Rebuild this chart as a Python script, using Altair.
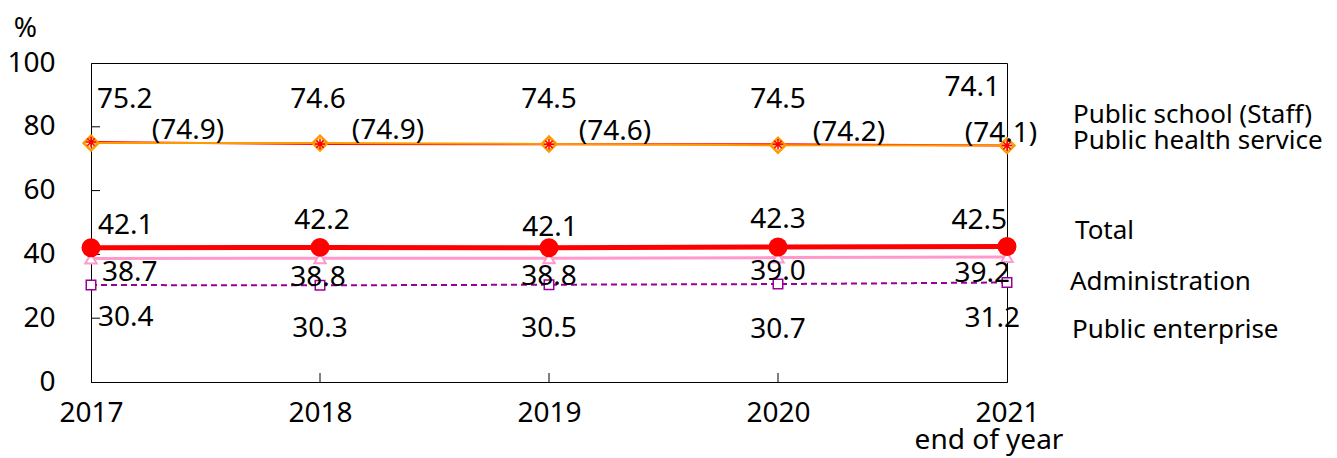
import altair as alt
import pandas as pd

# ---------------- data ----------------
years = [2017, 2018, 2019, 2020, 2021]
series_names = ["Public school (Staff)", "Public health service", "Total",
                "Administration", "Public enterprise"]
school = [75.2, 74.6, 74.5, 74.5, 74.1]
health = [74.9, 74.9, 74.6, 74.2, 74.1]
total = [42.1, 42.2, 42.1, 42.3, 42.5]
admin = [38.7, 38.8, 38.8, 39.0, 39.2]
enterprise = [30.4, 30.3, 30.5, 30.7, 31.2]
y_tick_values = [0, 20, 40, 60, 80, 100]
x_note = "end of year"

values_by_series = {
    "Public school (Staff)": school,
    "Public health service": health,
    "Total": total,
    "Administration": admin,
    "Public enterprise": enterprise,
}

rows = []
for name in series_names:
    for yr, v in zip(years, values_by_series[name]):
        lab = f"({v:.1f})" if name == "Public health service" else f"{v:.1f}"
        rows.append({"series": name, "year": yr, "value": v, "label": lab})
df = pd.DataFrame(rows)

# ---------------- layout / style ----------------
W, H = 916, 319
FONT = "Noto Sans"
FS = 28
LEG_FS = 26

xs = alt.Scale(domain=[2017, 2021], nice=False, zero=False)
ys = alt.Scale(domain=[0, 100], nice=False)

x_axis = alt.Axis(values=years, format="d", title=None, grid=False,
                  ticks=False, tickSize=0, labelPadding=17,
                  labelFontSize=FS, labelFont=FONT, labelColor="black",
                  domainColor="black", labelFlush=False)
y_axis = alt.Axis(values=y_tick_values, grid=False, ticks=False,
                  tickSize=0, labelPadding=36, labelFontSize=FS,
                  labelFont=FONT, labelColor="black",
                  domainColor="black", title="%", titleAngle=0,
                  titleX=-66, titleY=-35, titleAlign="center",
                  titleBaseline="middle", titleFontSize=FS,
                  titleFont=FONT, titleFontWeight="normal",
                  titleColor="black")
X = alt.X("year:Q", scale=xs, axis=x_axis)
Y = alt.Y("value:Q", scale=ys, axis=y_axis)

line_style = {
    "Public school (Staff)": dict(color="#FF0000", strokeWidth=2),
    "Public health service": dict(color="#FF9900", strokeWidth=2),
    "Total": dict(color="#FF0000", strokeWidth=5),
    "Administration": dict(color="#FF99CC", strokeWidth=3),
    "Public enterprise": dict(color="#990099", strokeWidth=2, strokeDash=[6, 4]),
}
ASTERISK = "M-1,0L1,0M0,-1L0,1M-0.7,-0.7L0.7,0.7M-0.7,0.7L0.7,-0.7"
point_style = {
    "Public school (Staff)": dict(shape=ASTERISK, filled=False, stroke="#FF0000",
                                  strokeWidth=1.5, size=110, opacity=1),
    "Public health service": dict(shape="diamond", filled=True, fill="#FFE0A0",
                                  fillOpacity=0.4, stroke="#FF9900",
                                  strokeWidth=2.5, size=220, opacity=1),
    "Total": dict(shape="circle", filled=True, color="#FF0000", size=360,
                  opacity=1),
    "Administration": dict(shape="triangle-up", filled=True, fill="white",
                           stroke="#FF99CC", strokeWidth=2, size=130, opacity=1),
    "Public enterprise": dict(shape="square", filled=True, fill="white",
                              stroke="#990099", strokeWidth=1.5, size=90,
                              opacity=1),
}
draw_order = ["Public enterprise", "Administration", "Total",
              "Public school (Staff)", "Public health service"]
marker_order = ["Public enterprise", "Administration", "Total",
                "Public health service", "Public school (Staff)"]

# per-point label placement: (align, dx, dy)
label_place = {
    "Public school (Staff)": [("left", 6, -42), ("center", -2, -44), ("center", 0, -44),
                              ("center", 0, -44), ("right", -7, -58)],
    "Public health service": [("center", 97, -12), ("center", 68, -12), ("center", 66, -12),
                              ("center", 71, -12), ("center", -6, -12)],
    "Total": [("left", 7, -22), ("center", 2, -26), ("center", 1, -20),
              ("center", 0, -27), ("right", 0, -25)],
    "Administration": [("left", 11, 14), ("center", -2, 20), ("center", 0, 19),
                       ("center", 0, 14), ("right", 3, 17)],
    "Public enterprise": [("left", 7, 33), ("center", 0, 44), ("center", 0, 44),
                          ("center", 0, 46), ("right", 13, 37)],
}
legend_place = {
    "Public school (Staff)": (982, 52),
    "Public health service": (982, 78),
    "Total": (984, 168),
    "Administration": (979, 219),
    "Public enterprise": (981, 267),
}

# ---------------- layers ----------------
layers = []

# inward tick marks
ytick_df = pd.DataFrame({"value": y_tick_values[1:-1]})
layers.append(alt.Chart(ytick_df).mark_rule(color="black", strokeWidth=1).encode(
    y=Y, x=alt.value(0), x2=alt.value(9)))
xtick_df = pd.DataFrame({"year": years[1:-1]})
layers.append(alt.Chart(xtick_df).mark_rule(color="black", strokeWidth=1).encode(
    x=X, y=alt.value(H), y2=alt.value(H - 9)))

for name in draw_order:
    sub = df[df.series == name]
    layers.append(alt.Chart(sub).mark_line(**line_style[name]).encode(x=X, y=Y))

for name in marker_order:
    sub = df[df.series == name]
    layers.append(alt.Chart(sub).mark_point(**point_style[name]).encode(x=X, y=Y))

for name in series_names:
    sub = df[df.series == name].reset_index(drop=True)
    for i in range(len(sub)):
        align, dx, dy = label_place[name][i]
        layers.append(alt.Chart(sub.iloc[[i]]).mark_text(
            align=align, baseline="middle", dx=dx, dy=dy, font=FONT,
            fontSize=FS, color="black").encode(x=X, y=Y, text="label:N"))

for name in series_names:
    lx, ly = legend_place[name]
    layers.append(alt.Chart(pd.DataFrame({"name": [name]})).mark_text(
        align="left", baseline="middle", font=FONT, fontSize=LEG_FS,
        color="black").encode(x=alt.value(lx), y=alt.value(ly), text="name:N"))

# "end of year" note under the last tick
layers.append(alt.Chart(pd.DataFrame({"year": [years[-1]], "t": [x_note]})).mark_text(
    align="center", baseline="middle", font=FONT, fontSize=FS, dx=-18,
    color="black").encode(x=X, y=alt.value(H + 59), text="t:N"))

chart = alt.layer(*layers).properties(
    width=W, height=H,
    autosize=alt.AutoSizeParams(type="none"),
    padding={"left": 83, "top": 55, "right": 322, "bottom": 74},
    background="white",
).configure_view(stroke="black", strokeWidth=1)

chart.save("out.html", embed_options={"renderer": "svg", "actions": False})
